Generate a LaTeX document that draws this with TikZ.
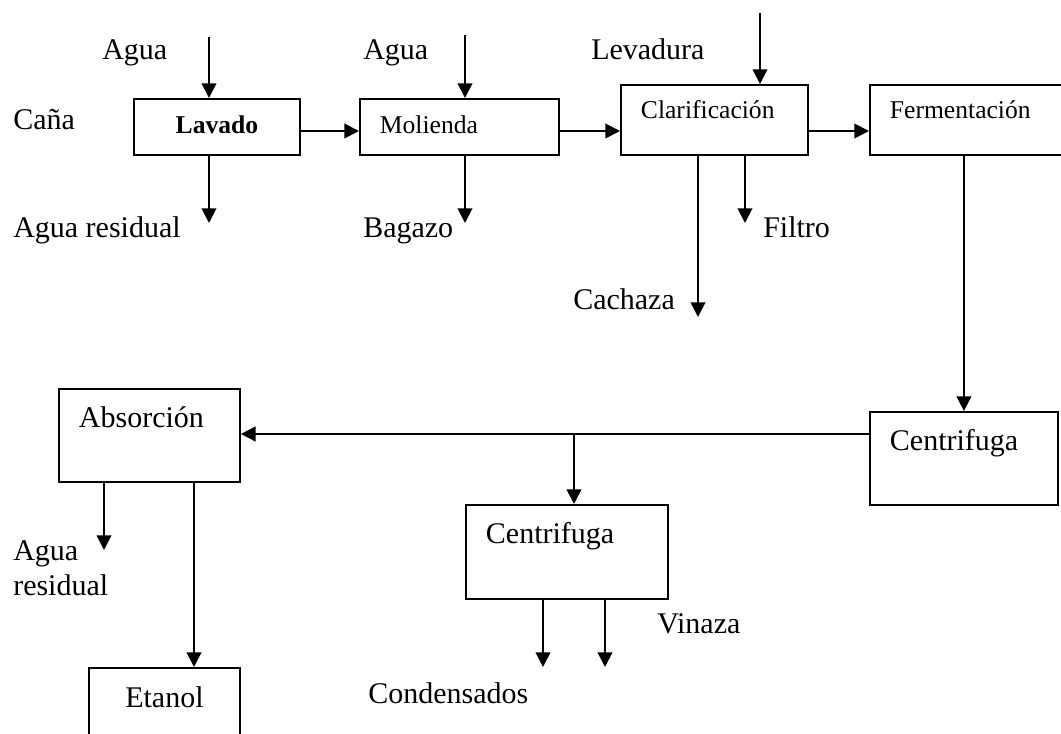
\documentclass[tikz,border=0pt]{standalone}
\usepackage{fontspec}
\setmainfont{Liberation Serif}
\usetikzlibrary{arrows.meta}
\tikzset{
  box/.style={draw,line width=1.4pt,anchor=north west,inner xsep=15pt,inner ysep=0pt,align=left},
  big/.style={font=\fontsize{22.5}{26.25}\selectfont},
  small/.style={font=\fontsize{19.2}{22}\selectfont},
  lbl/.style={big,inner sep=0pt,anchor=base west,align=left},
  flow/.style={line width=1.4pt,-{Triangle[length=11pt,width=11pt]}},
  pipe/.style={line width=1.4pt}
}
\begin{document}
\begin{tikzpicture}[x=0.75pt,y=-0.75pt]
\useasboundingbox (0,0) rectangle (1061,734);
% etapas
\node[box,small,align=center,text width=94.5pt,text height=26.25pt,text depth=15.75pt](lavado) at (133,98){\textbf{Lavado}};
\node[box,small,text width=119.25pt,text height=26.25pt,text depth=15.75pt](molienda) at (359,98){Molienda};
\node[box,small,text width=110.25pt,text height=25.5pt,text depth=27pt](clarif) at (620,84){Clarificación};
\node[box,small,text width=120pt,text height=25.5pt,text depth=27pt](ferm) at (869,84){Fermentación};
\node[box,big,text width=111pt,text height=29.25pt,text depth=40.5pt](centA) at (869,411){Centrifuga};
\node[box,big,text width=105.75pt,text height=29.25pt,text depth=40.5pt](absor) at (58,388){Absorción};
\node[box,big,text width=121.5pt,text height=29.25pt,text depth=41.25pt](centB) at (465,504){Centrifuga};
\node[box,big,align=center,text width=83.25pt,text height=30pt,text depth=45pt](etanol) at (88,667){Etanol};
% textos
\node[lbl](agua1) at (102,60){Agua};
\node[lbl](agua2) at (363,60){Agua};
\node[lbl](levad) at (591,60){Levadura};
\node[lbl](cana) at (13,130){Caña};
\node[lbl](resid1) at (13,238){Agua residual};
\node[lbl](bagazo) at (363,238){Bagazo};
\node[lbl](filtro) at (763,238){Filtro};
\node[lbl](cachaza) at (573,310){Cachaza};
\node[lbl,anchor=north west](resid2) at (13,540){Agua\\residual};
\node[lbl](vinaza) at (657,633){Vinaza};
\node[lbl](conden) at (368,703){Condensados};
% puntos libres
\coordinate (inA) at (209,37);
\coordinate (inB) at (465,35);
\coordinate (inC) at (760,13);
\coordinate (outA) at (209,223);
\coordinate (outB) at (465,223);
\coordinate (outC) at (745,223);
\coordinate (outD) at (698,317);
\coordinate (outE) at (104,550);
\coordinate (outF) at (543,667);
\coordinate (outG) at (605,667);
\coordinate (etIn) at (194,667);
\coordinate (row) at (0,131);
\coordinate (split) at (574,434);
% corrientes
\draw[flow](inA)--(inA|-lavado.north);
\draw[flow](inB)--(inB|-molienda.north);
\draw[flow](inC)--(inC|-clarif.north);
\draw[flow](lavado.east|-row)--(molienda.west|-row);
\draw[flow](molienda.east|-row)--(clarif.west|-row);
\draw[flow](clarif.east|-row)--(ferm.west|-row);
\draw[flow](outA|-lavado.south)--(outA);
\draw[flow](outB|-molienda.south)--(outB);
\draw[flow](outC|-clarif.south)--(outC);
\draw[flow](outD|-clarif.south)--(outD);
\draw[flow](ferm.south-|centA.north)--(centA.north);
\draw[pipe](centA.west|-split)--(split);
\draw[flow](split)--(absor.east|-split);
\draw[flow](split)--(split|-centB.north);
\draw[flow](outE|-absor.south)--(outE);
\draw[flow](etIn|-absor.south)--(etIn);
\draw[flow](outF|-centB.south)--(outF);
\draw[flow](outG|-centB.south)--(outG);
\end{tikzpicture}
\end{document}
